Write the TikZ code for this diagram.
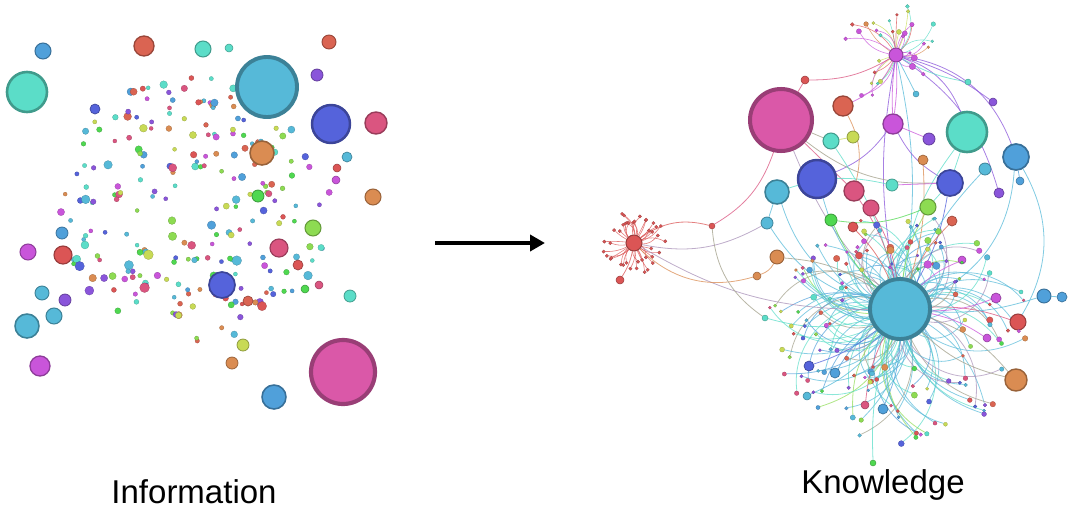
\documentclass[tikz,border=0pt]{standalone}
\usepackage{fontspec}
\setmainfont{Liberation Sans}
\usetikzlibrary{arrows.meta,calc}
\pgfdeclarelayer{edges}
\pgfsetlayers{edges,main}

\definecolor{cblue}{HTML}{56B9D8}
\definecolor{cazure}{HTML}{50A0DA}
\definecolor{cteal}{HTML}{5BDDC8}
\definecolor{cred}{HTML}{DB5555}
\definecolor{cvermil}{HTML}{DA6452}
\definecolor{corange}{HTML}{DA8C52}
\definecolor{cgreen}{HTML}{4FD850}
\definecolor{clime}{HTML}{8DDB52}
\definecolor{cyellow}{HTML}{C8DA55}
\definecolor{cmag}{HTML}{C955DA}
\definecolor{cpurple}{HTML}{8A55DA}
\definecolor{cnavy}{HTML}{5563DB}
\definecolor{crose}{HTML}{DA5580}
\definecolor{cpink}{HTML}{DA58A8}
\definecolor{cgray}{HTML}{A09E88}
\definecolor{cmauve}{HTML}{A890B8}

\begin{document}
\begin{tikzpicture}[x=1pt,y=-1pt,
  bubble/.style={circle,inner sep=0pt,fill=#1,draw=#1!70!black},
  link/.style={draw=#1,line width=0.8pt,opacity=0.75},
  label text/.style={font=\fontsize{33}{40}\selectfont,anchor=base}]
  \useasboundingbox (0,0) rectangle (1080,515);
  \pgfmathsetseed{42}
  \pgfmathdeclarerandomlist{allcols}{{cblue}{cazure}{cteal}{cred}{cvermil}{corange}{cgreen}{clime}{cyellow}{cmag}{cpurple}{cnavy}{crose}}
  \pgfmathdeclarerandomlist{hubcols}{{cblue}{cblue}{cblue}{cblue}{cblue}{cblue}{cazure}{cteal}{cteal}{cteal}{clime}{cmauve}{cgray}}
  \pgfmathdeclarerandomlist{topcols}{{cmag}{cmag}{cmag}{cteal}{cyellow}{cred}{corange}}

  % information
  \foreach \i in {1,...,240}{
    \pgfmathsetmacro\ang{360*rnd}
    \pgfmathsetmacro\dist{12+123*sqrt(rnd)}
    \pgfmathsetmacro\rad{2+3*rnd*rnd}
    \pgfmathrandomitem\dcol{allcols}
    \node[bubble=\dcol,minimum size=2*\rad,line width=0.2] (speck\i) at ($(195,207)+(\ang:\dist)$) {};
  }
  \foreach \x/\y/\rad/\col [count=\i] in {43/51/8/cazure, 27/92/20/cteal,
      144/46/10/cvermil, 203/49/8/cteal, 229/48/4/cteal, 267/87/30/cblue,
      329/42/7/cvermil, 317/75/6/cpurple, 331/124/19/cnavy, 376/123/11/crose,
      262/153/12/corange, 347/157/5/cblue, 337/168/4/cred, 336/180/4/cmag,
      373/197/8/corange, 258/196/6/cgreen, 313/228/8/clime, 279/248/9/crose,
      222/285/13/cnavy, 63/255/9/cred, 28/252/8/cmag, 62/233/6/cazure,
      42/293/7/cblue, 65/300/6/cpurple, 54/316/8/cblue, 27/326/12/cblue,
      40/366/10/cmag, 243/345/6/cyellow, 232/363/6/corange, 274/397/12/cazure,
      343/372/32/cpink, 350/296/6/cteal, 319/285/4/crose, 305/289/4/cgreen,
      298/265/5/cred, 248/301/5/cvermil, 95/109/5/cnavy}
    \node[bubble=\col,minimum size=2*\rad,line width=0.13*\rad] (info\i) at (\x,\y) {};

  % knowledge
  \foreach \nm/\x/\y/\rad/\col in {hub/900/309/30/cblue, redhub/634/243/8/cred,
      maghub/896/55/7/cmag, pinkR/781/120/31/cpink, redR/843/106/10/cvermil,
      tealS/831/141/8/cteal, yelR/853/137/6/cyellow, magR/893/124/10/cmag,
      purR/929/139/6/cpurple, tealR/967/132/20/cteal, azR/1016/157/13/cazure,
      navyR/817/179/19/cnavy, blueR/777/192/12/cblue, roseR/854/191/10/crose,
      roseS/871/208/8/crose, tealT/892/185/6/cteal, navyS/950/183/13/cnavy,
      oraS/923/160/5/corange, limeR/928/207/8/clime, blueS/985/169/6/cblue,
      purS/999/193/5/cpurple, greenR/831/220/6/cgreen, blueT/767/223/6/cblue,
      oraR/777/257/7/corange, oraB/1016/380/11/corange, redB/1018/322/8/cred,
      azB/1044/296/7/cazure, azC/1062/297/5/cazure, redTop/805/80/4/cred,
      redMid/712/226/3/cred, oraMid/757/276/4/corange, redLow/620/280/4/cred,
      navyD/809/366/5/cnavy, azD/835/373/5/cazure, blueD/807/396/4/cblue,
      roseD/865/405/4/crose, azE/883/409/5/cazure, grnEnd/873/463/3/cgreen,
      magD/996/298/5/cmag, magE/987/338/4/cmag, magF/962/260/4/cmag,
      redD/853/227/5/cred, redE/952/221/5/cvermil, blueU/916/94/3/cblue,
      tealU/968/82/3/cteal, purU/993/102/4/cpurple, azU/1020/181/4/cazure,
      tealL/765/318/3/cteal}
    \node[bubble=\col,minimum size=2*\rad,line width=0.13*\rad] (\nm) at (\x,\y) {};

  \foreach \i in {1,...,150}{
    \pgfmathsetmacro\ang{360*rnd}
    \pgfmathsetmacro\dist{(60+75*rnd)*(1-0.3*max(0,-sin(\ang)))}
    \pgfmathsetmacro\bd{(18+30*rnd)*(2*int(2*rnd)-1)}
    \pgfmathsetmacro\rad{1.5+2.5*rnd*rnd}
    \pgfmathrandomitem\dcol{allcols}
    \pgfmathrandomitem\ecol{hubcols}
    \node[bubble=\dcol,minimum size=2*\rad,line width=0.2] (hs\i) at ($(hub)+(\ang:\dist)$) {};
    \begin{pgfonlayer}{edges}
      \draw[link=\ecol,opacity=0.7] (hub) to[bend left=\bd] (hs\i);
    \end{pgfonlayer}
  }
  \foreach \i in {1,...,40}{
    \pgfmathsetmacro\ang{360*rnd}
    \pgfmathsetmacro\dist{18+14*rnd}
    \pgfmathsetmacro\bd{-30+60*rnd}
    \node[bubble=cred,minimum size=3.4,line width=0.2] (rs\i) at ($(redhub)+(\ang:\dist)$) {};
    \begin{pgfonlayer}{edges}
      \draw[link=cred,line width=0.6pt] (redhub) to[bend left=\bd] (rs\i);
    \end{pgfonlayer}
  }
  \foreach \i in {1,...,32}{
    \pgfmathsetmacro\ang{120+280*rnd}
    \pgfmathsetmacro\dist{14+40*rnd}
    \pgfmathsetmacro\bd{-35+70*rnd}
    \pgfmathsetmacro\rad{1.4+2.6*rnd*rnd}
    \pgfmathrandomitem\dcol{topcols}
    \node[bubble=\dcol,minimum size=2*\rad,line width=0.2] (ms\i) at ($(maghub)+(\ang:\dist)$) {};
    \begin{pgfonlayer}{edges}
      \draw[link=\dcol,line width=0.6pt] (maghub) to[bend left=\bd] (ms\i);
    \end{pgfonlayer}
  }

  \begin{pgfonlayer}{edges}
  \foreach \a/\b/\bd/\col in {redhub/redMid/25/cred, redMid/pinkR/-20/crose,
      redhub/blueT/-20/cmauve, redhub/hub/-15/cmauve, redhub/oraMid/-30/corange,
      oraMid/oraR/-20/corange, redMid/tealL/-25/cgray, pinkR/redTop/0/crose,
      redTop/maghub/-15/crose, redR/maghub/-20/cmag, maghub/tealR/25/cpurple,
      maghub/azR/30/cpurple, maghub/magR/5/cmag, maghub/magR/-5/cmag,
      maghub/purS/20/cpurple, maghub/hub/-10/cpurple, maghub/hub/10/cblue,
      magR/navyS/-15/cpurple, magR/navyR/15/cpurple, pinkR/tealS/0/cgray,
      pinkR/navyS/-20/cgray, pinkR/hub/-10/cmauve, pinkR/roseR/0/crose,
      tealS/hub/10/cteal, navyR/hub/-15/cblue, blueR/hub/-25/cblue,
      roseR/hub/10/crose, tealR/hub/-15/cteal, navyS/hub/10/cnavy,
      azR/hub/30/cblue, azR/redB/30/cblue, hub/oraB/15/cgray, hub/oraB/-15/cgray,
      hub/redB/10/crose, hub/azB/-10/cblue, azB/azC/0/cblue, tealR/navyS/0/cteal,
      blueR/tealT/15/cteal, tealT/navyS/0/cmag, redR/roseR/20/corange,
      limeR/navyS/0/cteal, greenR/limeR/-15/cgreen, hub/grnEnd/-10/cteal,
      blueR/blueT/0/cblue, blueT/hub/-20/cblue, hub/navyD/10/cnavy,
      hub/azD/-10/cazure, hub/blueD/15/cblue, hub/roseD/-10/crose,
      hub/azE/10/cazure, hub/magD/-10/cmag, hub/magE/10/cmag, hub/magF/10/cmag,
      hub/redD/-10/cred, hub/redE/10/cvermil, maghub/blueU/0/cblue,
      maghub/tealU/-10/cteal, maghub/purU/10/cpurple, azR/azU/0/cazure,
      hub/tealL/15/cteal, redhub/redLow/10/cred, tealS/yelR/0/cyellow,
      magR/purR/0/cmag, hub/roseS/-10/crose, hub/limeR/10/clime,
      hub/oraS/-10/corange, hub/blueS/10/cblue, hub/greenR/10/cgreen,
      hub/oraR/-15/cgray}
    \draw[link=\col] (\a) to[bend left=\bd] (\b);
  \end{pgfonlayer}

  \coordinate (arrS) at (435,243);
  \coordinate (arrE) at (545,243);
  \draw[line width=4.5pt,-{Triangle[length=15pt,width=16pt]}] (arrS) -- (arrE);

  \node[label text] (information) at (194,503) {Information};
  \node[label text] (knowledge) at (883,493) {Knowledge};
\end{tikzpicture}
\end{document}
